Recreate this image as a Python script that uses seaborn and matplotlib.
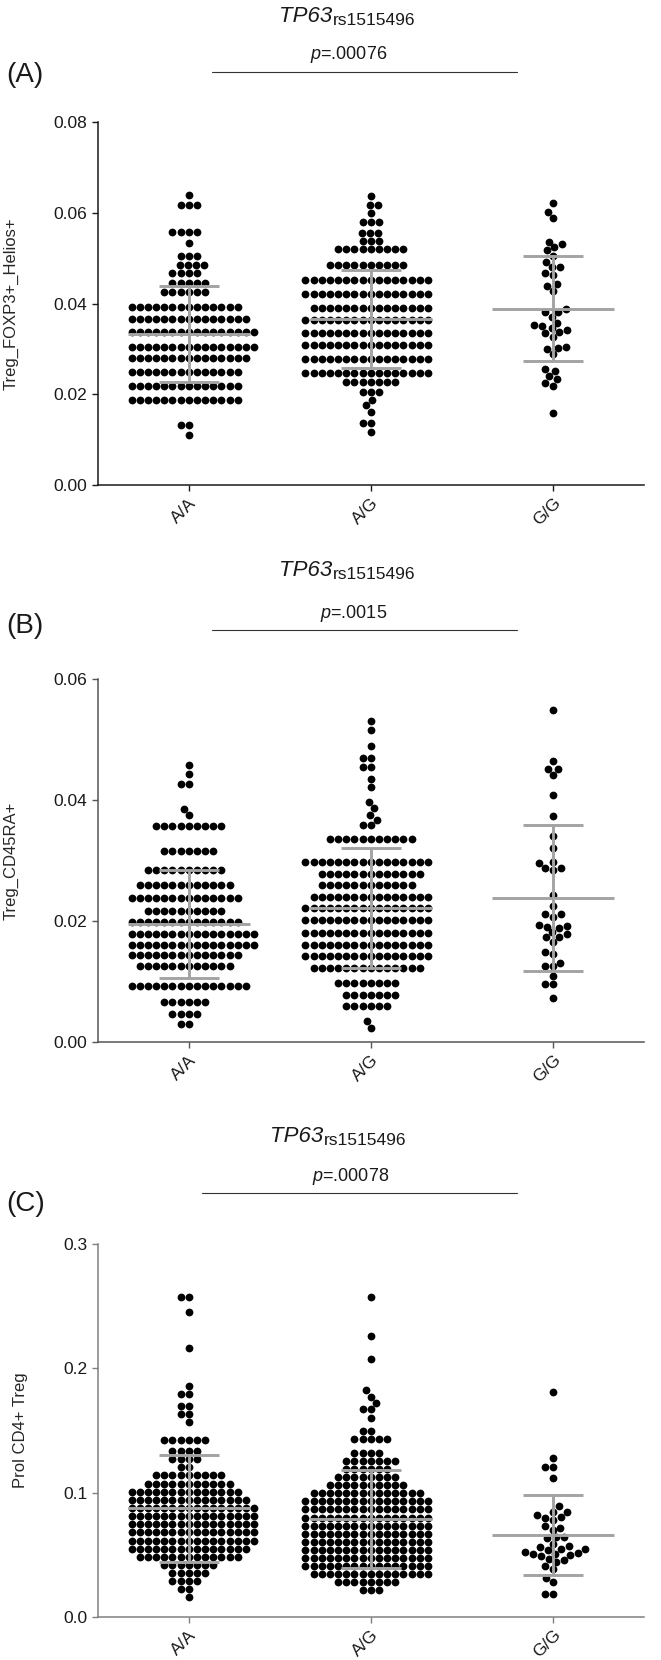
import matplotlib
matplotlib.use("Agg")
import matplotlib.pyplot as plt
from matplotlib.lines import Line2D
import numpy as np
import pandas as pd
import seaborn as sns

genotypes = ["A/A", "A/G", "G/G"]

# ---- panel A: Treg_FOXP3+_Helios+ ----
aa_a_levels = [0.011, 0.0133, 0.0188, 0.0218, 0.0250, 0.0280, 0.0305, 0.0338, 0.0365,
               0.0393, 0.0425, 0.0445, 0.0468, 0.0485, 0.0505, 0.0534, 0.0558, 0.0618, 0.064]
aa_a_counts = [1, 2, 14, 14, 14, 15, 16, 16, 15, 14, 6, 5, 4, 4, 3, 1, 4, 3, 1]
ag_a_levels = [0.0118, 0.0136, 0.0162, 0.0176, 0.0187, 0.0206, 0.0228, 0.0246, 0.0277,
               0.0309, 0.0334, 0.0364, 0.039, 0.042, 0.0452, 0.0485, 0.052, 0.0538,
               0.0555, 0.058, 0.060, 0.0617, 0.0636]
ag_a_counts = [1, 2, 1, 1, 1, 3, 7, 16, 16, 16, 16, 16, 15, 16, 16, 10, 9, 3, 3, 3, 1, 2, 1]
gg_a = [0.0158, 0.0219, 0.0224, 0.0234, 0.024, 0.0251, 0.0255, 0.0289, 0.03, 0.0303,
        0.0305, 0.0327, 0.0334, 0.0338, 0.0342, 0.0345, 0.035, 0.0353, 0.0358, 0.0371,
        0.0382, 0.0382, 0.0387, 0.0428, 0.0439, 0.0443, 0.0463, 0.0467, 0.048, 0.0481,
        0.0492, 0.0505, 0.0517, 0.0524, 0.0531, 0.0536, 0.0588, 0.0602, 0.0621]
mean_a = [0.0333, 0.0366, 0.0389]
sd_a = [0.0105, 0.0107, 0.0116]

# ---- panel B: Treg_CD45RA+ ----
aa_b_levels = [0.003, 0.0047, 0.0066, 0.0092, 0.0125, 0.0143, 0.016, 0.0178, 0.0198,
               0.0216, 0.0238, 0.026, 0.0285, 0.0315, 0.0357, 0.0375, 0.0385, 0.0426,
               0.0443, 0.0458]
aa_b_counts = [2, 4, 6, 15, 12, 14, 16, 16, 14, 10, 14, 12, 10, 7, 9, 1, 1, 2, 1, 1]
ag_b_levels = [0.0023, 0.0034, 0.006, 0.0078, 0.0097, 0.0123, 0.0142, 0.016, 0.018,
               0.0202, 0.0222, 0.024, 0.026, 0.0278, 0.0298, 0.0335, 0.0358, 0.0367,
               0.0375, 0.0386, 0.0396, 0.0421, 0.0434, 0.0454, 0.047, 0.0489, 0.0515, 0.053]
ag_b_counts = [1, 1, 6, 7, 8, 14, 16, 16, 16, 16, 16, 15, 12, 13, 16, 11, 2, 1, 1, 1,
               1, 1, 1, 2, 2, 1, 1, 1]
gg_b = [0.0072, 0.0096, 0.0096, 0.0109, 0.0125, 0.0125, 0.013, 0.0145, 0.0148, 0.0166,
        0.0173, 0.0174, 0.0179, 0.0181, 0.0188, 0.019, 0.0192, 0.0193, 0.0207, 0.0211,
        0.0211, 0.0224, 0.0243, 0.0284, 0.0287, 0.0287, 0.0296, 0.0298, 0.0321, 0.034,
        0.0374, 0.0409, 0.0441, 0.0451, 0.0451, 0.0465, 0.0548]
mean_b = [0.0195, 0.0222, 0.0238]
sd_b = [0.0090, 0.0099, 0.0120]

# ---- panel C: Prol CD4+ Treg ----
aa_c_levels = [0.016, 0.0225, 0.029, 0.0355, 0.042, 0.0485, 0.055, 0.0615, 0.068, 0.0745,
               0.081, 0.0875, 0.094, 0.1005, 0.107, 0.114, 0.1205, 0.127, 0.1335, 0.142,
               0.157, 0.1635, 0.170, 0.179, 0.186, 0.2163, 0.2456, 0.2577]
aa_c_counts = [1, 2, 4, 5, 7, 13, 15, 16, 16, 16, 16, 16, 15, 14, 11, 9, 2, 4, 4, 6,
               1, 2, 2, 2, 1, 1, 1, 2]
ag_c_levels = [0.0215, 0.028, 0.0345, 0.041, 0.0475, 0.054, 0.0605, 0.067, 0.0735, 0.08,
               0.0865, 0.093, 0.0995, 0.106, 0.1125, 0.119, 0.1255, 0.132, 0.1435, 0.150,
               0.1603, 0.1675, 0.1724, 0.1772, 0.1824, 0.2076, 0.226, 0.2577]
ag_c_counts = [3, 8, 15, 16, 16, 16, 16, 16, 16, 16, 16, 16, 14, 10, 8, 6, 7, 4, 5, 2,
               1, 2, 1, 1, 1, 1, 1, 1]
gg_c = [0.0186, 0.0186, 0.0278, 0.0315, 0.0387, 0.041, 0.0445, 0.0459, 0.0467, 0.0488,
        0.0502, 0.0508, 0.0508, 0.0517, 0.0525, 0.0537, 0.0546, 0.0546, 0.0565, 0.0568,
        0.0588, 0.0632, 0.0646, 0.0646, 0.0703, 0.0717, 0.0732, 0.0784, 0.08, 0.0804,
        0.082, 0.0841, 0.0847, 0.089, 0.112, 0.121, 0.121, 0.128, 0.181]
mean_c = [0.0876, 0.0789, 0.066]
sd_c = [0.0431, 0.0392, 0.0319]

panel_letters = ["(A)", "(B)", "(C)"]
y_labels = ["Treg_FOXP3+_Helios+", "Treg_CD45RA+", "Prol CD4+ Treg"]
p_labels = [".00076", ".0015", ".00078"]
y_ticks = [[0, 0.02, 0.04, 0.06, 0.08], [0, 0.02, 0.04, 0.06], [0, 0.1, 0.2, 0.3]]

sns.set_style("ticks")
plt.rcParams["font.family"] = ["Liberation Sans", "DejaVu Sans"]
plt.rcParams["mathtext.fontset"] = "custom"
plt.rcParams["mathtext.rm"] = "Liberation Sans"
plt.rcParams["mathtext.it"] = "Liberation Sans:italic"
plt.rcParams["text.color"] = "#1a1a1a"

GRAY = "#a3a3a3"


def make_frame(aa_lv, aa_ct, ag_lv, ag_ct, gg):
    aa = np.repeat(aa_lv, aa_ct)
    ag = np.repeat(ag_lv, ag_ct)
    return pd.DataFrame({
        "genotype": ["A/A"] * len(aa) + ["A/G"] * len(ag) + ["G/G"] * len(gg),
        "value": np.concatenate([aa, ag, gg]),
    })


frames = [
    make_frame(aa_a_levels, aa_a_counts, ag_a_levels, ag_a_counts, gg_a),
    make_frame(aa_b_levels, aa_b_counts, ag_b_levels, ag_b_counts, gg_b),
    make_frame(aa_c_levels, aa_c_counts, ag_c_levels, ag_c_counts, gg_c),
]
means = [mean_a, mean_b, mean_c]
sds = [sd_a, sd_b, sd_c]

# layout in figure fractions
axes_rects = [[0.148, 0.7078, 0.826, 0.2187],
              [0.148, 0.3723, 0.826, 0.2187],
              [0.148, 0.0259, 0.826, 0.2247]]
title_x = [0.502, 0.502, 0.489]
title_base = [0.9867, 0.6530, 0.3120]
p_x = [0.528, 0.535, 0.531]
p_y = [0.9669, 0.6307, 0.2910]
bar_y = [0.9566, 0.6205, 0.2813]
bar_x0 = [0.321, 0.321, 0.306]
letter_y = [0.9548, 0.6229, 0.2747]
label_x = [-0.145, -0.145, -0.127]
spine_col = ["#1a1a1a", "#555555", "#808080"]

fig = plt.figure(figsize=(6.61, 16.6), dpi=100)

for k in range(3):
    ax = fig.add_axes(axes_rects[k])
    sns.swarmplot(data=frames[k], x="genotype", y="value", order=genotypes,
                  color="black", size=5.6, linewidth=0, ax=ax, zorder=2,
                  warn_thresh=1)
    for i in range(3):
        m, s = means[k][i], sds[k][i]
        ax.hlines(m, i - 0.335, i + 0.335, color=GRAY, lw=2.1, zorder=5)
        ax.vlines(i, m - s, m + s, color=GRAY, lw=2.1, zorder=5)
        ax.hlines([m - s, m + s], i - 0.165, i + 0.165, color=GRAY, lw=2.1, zorder=5)

    ax.set_xlim(-0.5, 2.5)
    ax.set_ylim(0, y_ticks[k][-1])
    ax.set_yticks(y_ticks[k])
    ax.set_xlabel("")
    ax.set_ylabel(y_labels[k], fontsize=12)
    ax.yaxis.set_label_coords(label_x[k], 0.5)
    sns.despine(ax=ax)
    for side in ["left", "bottom"]:
        ax.spines[side].set_color(spine_col[k])
        ax.spines[side].set_linewidth(1.1)
    ax.tick_params(direction="out", length=4, width=1, color=spine_col[k],
                   labelsize=12.5, labelcolor="#1a1a1a")
    for lab in ax.get_xticklabels():
        lab.set_rotation(45)
        lab.set_ha("right")
        lab.set_rotation_mode("anchor")

    # gene name in italics, SNP id as a slightly lowered subscript
    fig.text(title_x[k], title_base[k], "TP63", fontsize=16, style="italic",
             ha="right", va="baseline")
    fig.text(title_x[k] + 0.001, title_base[k] - 3 / 1660, "rs1515496",
             fontsize=12.5, ha="left", va="baseline")
    fig.text(p_x[k], p_y[k], r"$\mathit{p}$=" + p_labels[k],
             fontsize=13, ha="center", va="center")
    fig.add_artist(Line2D([bar_x0[k], 0.782], [bar_y[k], bar_y[k]],
                          transform=fig.transFigure, color="#333333", lw=0.8))
    fig.text(0.009, letter_y[k], panel_letters[k], fontsize=20,
             ha="left", va="center")

fig.savefig("out.png", dpi=100)
